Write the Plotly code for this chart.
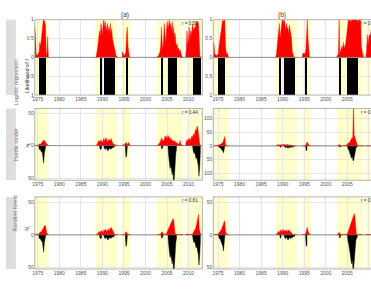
import plotly.graph_objects as go

W, H = 371, 289
STEP = 1 / 6

YEAR_TICKS = [1975, 1980, 1985, 1990, 1995, 2000, 2005, 2010]
SHADE_START = [1970, 1988.4, 1994.55, 2002.6, 2009.3]
SHADE_END = [1977.5, 1993.4, 1996.5, 2008.6, 2020]
RANGE_A = [1974.3, 2013.2]
RANGE_B = [1973.9, 2010.5]

ROW_NAMES = ["Logistic regression", "Hurdle model", "Random forest"]
PANEL_TITLES = ["(a)", "(b)"]
R_TEXT = [["0.58", "0.82"], ["0.44", "0.78"], ["0.81", "0.83"]]

# ---- panel (a) model predictions: segment starts, values every 2 months ----
A_START = [1974.3, 1988.5, 1994.6, 2002.7, 2009.3]
lr_a = [
    [0.8, 0.55, 0.08, 0.05, 0.06, 0.1, 0.15, 0.4, 0.3, 0.45, 0.7, 0.95, 1.0, 1.0, 0.9, 0.85, 0.1, 0.05, 0.55, 0.05],
    [0.03, 0.1, 0.2, 0.35, 0.5, 0.7, 0.55, 0.9, 0.75, 0.6, 0.85, 1.0, 0.8, 0.95, 0.7, 0.85, 0.9, 0.65, 0.8, 0.7, 0.9, 0.6, 0.75, 0.5, 0.4, 0.3, 0.15, 0.1, 0.05, 0.03, 0.0],
    [0.15, 0.12, 0.05, 0.05, 0.1, 0.1, 0.6, 0.8, 0.3, 0.05, 0.0, 0.0],
    [0.02, 0.02, 0.05, 0.1, 0.15, 0.3, 0.8, 0.4, 0.2, 0.5, 0.9, 0.6, 0.35, 0.7, 0.95, 0.75, 0.85, 1.0, 0.8, 0.9, 0.7, 0.95, 0.6, 0.8, 0.5, 0.65, 0.4, 0.3, 0.35, 0.2, 0.25, 0.15, 0.2, 0.1, 0.05, 0.02, 0.0],
    [0.15, 0.2, 0.7, 0.3, 0.5, 0.8, 0.45, 0.7, 0.6, 0.8, 0.9, 0.65, 0.8, 0.75, 0.9, 0.95, 0.85, 0.95, 0.9, 0.3, 0.05, 0.0, 0.0],
]
hm_a = [
    [0.5, 0.5, 0.5, 0.5, 0.5, 1, 2, 3, 2, 4, 5, 6, 8, 7, 8, 5, 3, 2, 1, 0.5],
    [0.5, 1, 3, 6, 8, 5, 7, 9, 6, 4, 8, 11, 7, 9, 12, 8, 6, 10, 7, 9, 8, 11, 6, 5, 3, 2, 1, 0.5, 0.5, 0.5, 0.5],
    [1, 2, 1, 1, 3, 5, 4, 1, 3, 5, 2, 0.5],
    [0.5, 1, 2, 3, 5, 8, 12, 6, 10, 7, 9, 15, 12, 14, 10, 16, 12, 11, 13, 9, 10, 8, 7, 6, 8, 5, 6, 4, 3, 4, 2, 3, 8, 2, 1, 0.5, 0.5],
    [3, 8, 5, 10, 8, 12, 7, 10, 12, 15, 12, 18, 15, 20, 25, 22, 30, 28, 20, 5, 1, 0.5, 0.5],
]
rf_a = [
    [3, 1, 0.5, 0.5, 0.5, 1, 2, 3, 5, 4, 6, 8, 10, 12, 15, 14, 5, 1, 2, 0.5],
    [0.5, 0.5, 1, 3, 5, 3, 6, 4, 7, 5, 3, 8, 6, 9, 7, 5, 8, 6, 10, 7, 9, 12, 10, 8, 4, 2, 1, 0.5, 0.5, 0.5, 0.5],
    [0.5, 0.5, 0.5, 0.5, 2, 5, 4, 1, 0.5, 0.5, 0.5, 0.5],
    [0.5, 0.5, 0.5, 0.5, 0.5, 2, 4, 5, 3, 1, 0.5, 0.5, 1, 2, 5, 8, 10, 12, 15, 18, 20, 22, 25, 24, 8, 3, 1, 0.5, 0.5, 0.5, 0.5, 0.5, 0.5, 0.5, 0.5, 0.5, 0.5],
    [0.5, 0.5, 0.5, 2, 0.5, 0.5, 0.5, 0.5, 0.5, 0.5, 2, 4, 6, 8, 10, 15, 20, 28, 32, 10, 1, 0.5, 0.5],
]

# ---- panel (b) model predictions ----
B_START = [1973.9, 1988.4, 1994.55, 2002.6, 2009.3]
lr_b = [
    [0.4, 0.35, 0.1, 0.05, 0.05, 0.05, 0.08, 0.1, 0.3, 0.45, 0.6, 0.8, 1.0, 1.0, 0.95, 1.0, 1.0, 0.3, 0.1, 0.12, 0.1, 0.0],
    [0.05, 0.1, 0.3, 0.6, 0.85, 0.9, 0.5, 0.7, 0.95, 1.0, 1.0, 0.9, 1.0, 0.85, 0.7, 0.9, 0.75, 0.8, 0.6, 0.85, 0.7, 0.6, 0.5, 0.15, 0.05, 0.02, 0.0, 0.0, 0.0, 0.0],
    [0.1, 0.12, 0.1, 0.1, 0.1, 0.2, 0.6, 1.0, 0.5, 0.05, 0.0, 0.0],
    [0.05, 0.05, 0.08, 1.0, 0.1, 0.15, 0.2, 0.3, 0.2, 0.4, 0.25, 0.3, 0.35, 0.5, 0.7, 1, 1, 1, 1, 0.95, 1, 1, 1, 1, 1, 1, 1, 1, 1, 0.95, 1, 1, 1, 1, 0.3, 0.1, 0.05, 0.05],
    [0.1, 0.15, 0.6, 0.3, 0.5, 0.6, 0.55, 0.7, 0.8, 0.9, 0.85, 0.9, 0.95, 0.9],
]
hm_b = [
    [0.5, 0.5, 0.5, 0.5, 0.5, 0.5, 0.5, 2, 4, 6, 5, 8, 10, 12, 18, 25, 35, 5, 1, 0.5, 0.5, 0.5],
    [0.5, 1, 2, 4, 5, 3, 4, 6, 5, 3, 7, 4, 5, 6, 3, 5, 4, 6, 3, 5, 4, 3, 2, 1, 0.5, 0.5, 0.5, 0.5, 0.5, 0.5],
    [0.5, 0.5, 0.5, 0.5, 1, 3, 12, 15, 8, 1, 0.5, 0.5],
    [0.5, 1, 2, 6, 2, 1, 0.5, 0.5, 1, 0.5, 0.5, 1, 2, 3, 5, 8, 12, 10, 15, 18, 25, 30, 28, 160, 40, 30, 20, 12, 6, 3, 1, 0.5, 0.5, 0.5, 0.5, 0.5, 0.5, 0.5],
    [0.5, 2, 1, 0.5, 0.5, 0.5, 0.5, 0.5, 0.5, 0.5, 0.5, 0.5, 0.5, 0.5],
]
rf_b = [
    [0.5, 0.5, 0.5, 0.5, 0.5, 0.5, 0.5, 2, 3, 5, 6, 8, 10, 12, 16, 20, 22, 5, 1, 0.5, 0.5, 0.5],
    [0.5, 1, 2, 4, 6, 3, 5, 8, 6, 4, 9, 6, 7, 5, 8, 6, 7, 5, 8, 6, 5, 4, 3, 1, 0.5, 0.5, 0.5, 0.5, 0.5, 0.5],
    [0.5, 0.5, 0.5, 0.5, 1, 3, 10, 12, 6, 1, 0.5, 0.5],
    [0.5, 1, 2, 4, 2, 0.5, 0.5, 0.5, 0.5, 0.5, 0.5, 0.5, 0.5, 0.5, 1, 3, 6, 10, 12, 15, 18, 22, 26, 30, 33, 28, 6, 1, 0.5, 0.5, 0.5, 0.5, 0.5, 0.5, 0.5, 0.5],
    [0.5, 0.5, 0.5, 0.5, 0.5, 0.5, 0.5, 0.5, 0.5, 0.5, 0.5, 0.5, 0.5, 0.5],
]

# ---- observed occurrences (presence periods and counts every 2 months) ----
OBS_A_START = [1975.2, 1989.3, 1990.3, 1995.3, 2003.6, 2005.2, 2010.9]
OBS_A_END = [1976.9, 1989.8, 1992.8, 1995.8, 2004.1, 2007.3, 2012.8]
obs_a = [
    [4, 6, 5, 8, 10, 9, 18, 27, 12, 6, 3],
    [3, 5, 6, 4],
    [2, 4, 6, 5, 3, 7, 8, 5, 4, 6, 3, 5, 4, 2, 3, 2],
    [6, 18, 15, 5],
    [3, 5, 4, 2],
    [8, 15, 25, 35, 30, 40, 45, 38, 60, 50, 25, 12, 5],
    [5, 8, 12, 10, 15, 20, 18, 25, 30, 47, 35, 10],
]
OBS_B_START = [1975.1, 1989.3, 1990.3, 1995.3, 2003.1, 2005.0]
OBS_B_END = [1976.7, 1989.7, 1992.9, 1995.75, 2003.7, 2007.5]
obs_b = [
    [4, 6, 5, 8, 10, 12, 18, 25, 10, 4],
    [3, 5, 4],
    [2, 4, 6, 5, 3, 7, 8, 5, 4, 6, 3, 5, 4, 2, 3, 2],
    [6, 18, 15],
    [3, 5, 2, 1],
    [5, 10, 15, 25, 30, 40, 45, 38, 55, 50, 30, 15, 8, 5, 3],
]

Y_RANGES = [[[-1, 1], [-1, 1]], [[-53, 57], [-125, 137]], [[-53, 59], [-53, 59]]]
Y_TICKS = [[[-1, -0.5, 0, 0.5, 1]] * 2, [[-50, 0, 50], [-100, -50, 0, 50, 100]], [[-50, 0, 50]] * 2]
Y_TITLES = ["Likelihood of <i>I</i>", "<i>N<sub>I</sub></i>", "<i>N<sub>I</sub></i>"]

X_DOM = [[32 / W, 201 / W], [212 / W, 1.0]]
ROW_PX = [(17, 94), (107.7, 181), (198, 271.7)]
Y_DOM = [[1 - b / H, 1 - t / H] for t, b in ROW_PX]

RED = "#ff0000"
BLACK = "#000000"


def series(starts, segs, sign=1):
    xs, ys = [], []
    for s, vals in zip(starts, segs):
        n = len(vals)
        xs += [s] + [s + i * STEP for i in range(n)] + [s + (n - 1) * STEP, None]
        ys += [0] + [sign * v for v in vals] + [0, None]
    return xs, ys


def sfx(k):
    return "" if k == 1 else str(k)


def area(xs, ys, color, k):
    return go.Scatter(x=xs, y=ys, mode="lines", fill="tozeroy", fillcolor=color,
                      line=dict(color=color, width=0.4), xaxis="x" + sfx(k), yaxis="y" + sfx(k),
                      hoverinfo="skip", cliponaxis=True)


fig = go.Figure()
layout = dict(width=W, height=H, margin=dict(l=0, r=0, t=0, b=0),
              paper_bgcolor="white", plot_bgcolor="white", showlegend=False,
              font=dict(family="Liberation Sans, Arial, sans-serif", size=5, color="#555555"))
shapes, annotations = [], []

models = [[lr_a, lr_b], [hm_a, hm_b], [rf_a, rf_b]]
starts = [A_START, B_START]
obs_starts = [OBS_A_START, OBS_B_START]
obs_ends = [OBS_A_END, OBS_B_END]
obs_counts = [obs_a, obs_b]
ranges = [RANGE_A, RANGE_B]

for r in range(3):
    for c in range(2):
        k = r * 2 + c + 1
        xr, yr = "x" + sfx(k), "y" + sfx(k)
        xs, ys = series(starts[c], models[r][c])
        fig.add_trace(area(xs, ys, RED, k))
        if r == 0:
            mids = [(s + e) / 2 for s, e in zip(obs_starts[c], obs_ends[c])]
            wids = [e - s for s, e in zip(obs_starts[c], obs_ends[c])]
            fig.add_trace(go.Bar(x=mids, y=[-1] * len(mids), width=wids,
                                 marker=dict(color=BLACK, line=dict(width=0)),
                                 xaxis=xr, yaxis=yr, hoverinfo="skip"))
        else:
            xo, yo = series(obs_starts[c], obs_counts[c], sign=-1)
            fig.add_trace(area(xo, yo, BLACK, k))

        ticks = Y_TICKS[r][c]
        layout["xaxis" + sfx(k)] = dict(domain=X_DOM[c], range=ranges[c], anchor=yr,
                                        tickvals=YEAR_TICKS, ticks="", showgrid=True,
                                        gridcolor="#e6e6e6", gridwidth=0.6, zeroline=False,
                                        showline=False, tickfont=dict(size=5, color="#555555"))
        layout["yaxis" + sfx(k)] = dict(domain=Y_DOM[r], range=Y_RANGES[r][c], anchor=xr,
                                        tickvals=ticks, ticktext=[f"{abs(t):g}" for t in ticks],
                                        ticks="", showgrid=True, gridcolor="#e6e6e6", gridwidth=0.6,
                                        zeroline=False, showline=False,
                                        tickfont=dict(size=5, color="#555555"))
        for s, e in zip(SHADE_START, SHADE_END):
            x0, x1 = max(s, ranges[c][0]), min(e, ranges[c][1])
            if x1 > x0:
                shapes.append(dict(type="rect", xref=xr, yref=yr + " domain",
                                   x0=x0, x1=x1, y0=0, y1=1, fillcolor="#ffffcc",
                                   line=dict(width=0), layer="below"))
        shapes.append(dict(type="line", xref=xr + " domain", yref=yr, x0=0, x1=1,
                           y0=0, y1=0, line=dict(color="#666666", width=0.7), layer="above"))
        shapes.append(dict(type="rect", xref=xr + " domain", yref=yr + " domain",
                           x0=0, x1=1 if c == 0 else 1.2, y0=0, y1=1,
                           line=dict(color="#a0a0a0", width=0.8), layer="above"))
        annotations.append(dict(text=f"<i>r</i> = {R_TEXT[r][c]}", xref="paper", yref="paper",
                                x=(199 if c == 0 else 379) / W, y=1 - (ROW_PX[r][0] + 4) / H,
                                xanchor="right", yanchor="middle", showarrow=False,
                                font=dict(size=4.6, color="#333333")))

    shapes.append(dict(type="rect", xref="paper", yref="paper", x0=3 / W, x1=13 / W,
                       y0=Y_DOM[r][0], y1=Y_DOM[r][1], fillcolor="#dedede",
                       line=dict(width=0), layer="above"))
    annotations.append(dict(text=ROW_NAMES[r], xref="paper", yref="paper", x=8 / W,
                            y=sum(Y_DOM[r]) / 2, textangle=-90, showarrow=False,
                            font=dict(size=5.5, color="#6e6e6e")))
    annotations.append(dict(text=Y_TITLES[r], xref="paper", yref="paper", x=20 / W,
                            y=sum(Y_DOM[r]) / 2, textangle=-90, showarrow=False,
                            font=dict(size=5.5, color="#333333")))

for c, t in enumerate(PANEL_TITLES):
    annotations.append(dict(text=t, xref="paper", yref="paper", x=[117, 287][c] / W,
                            y=1 - 6 / H, showarrow=False, font=dict(size=6.5, color="#333333")))

layout["shapes"] = shapes
layout["annotations"] = annotations
layout["bargap"] = 0
fig.update_layout(**layout)
fig.write_html("out.html")
